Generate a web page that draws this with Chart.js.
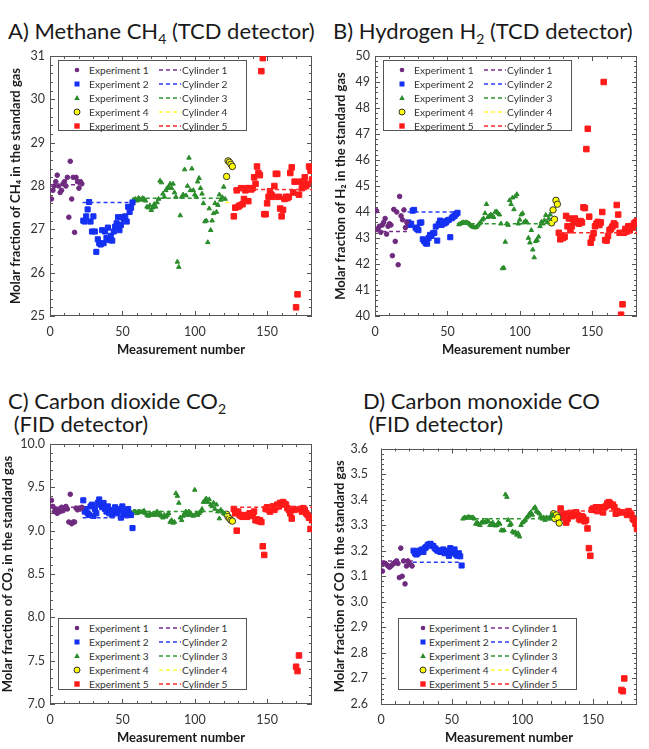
<!DOCTYPE html>
<html lang="en">
<head>
<meta charset="UTF-8">
<title>Standard gas measurements</title>
<script src="https://cdn.jsdelivr.net/npm/chart.js"></script>
<style>
  html, body { margin: 0; padding: 0; background: #fff; overflow: hidden; }
  body { width: 649px; height: 749px; position: relative; font-family: Lato, "Open Sans", sans-serif; color: #1a1a1a; }
  .panel-title { position: absolute; font-size: 22px; line-height: 23px; white-space: nowrap; }
  .panel-title sub { font-size: 14px; vertical-align: -5px; line-height: 0; }
  .chart-box { position: absolute; }
  .legend { position: absolute; border: 1px solid #555; background: #fff; box-sizing: border-box; }
  .legend svg { position: absolute; left: 0; top: 0; }
  .legend span { position: absolute; font-size: 10.2px; line-height: 12px; color: #333; white-space: nowrap; }
</style>
</head>
<body>

<div class="panel-title" style="left:8px; top:19px;">A) Methane CH<sub>4</sub> (TCD detector)</div>
<div class="panel-title" style="left:333px; top:19px;">B) Hydrogen H<sub>2</sub> (TCD detector)</div>
<div class="panel-title" style="left:8px; top:389px;">C) Carbon dioxide CO<sub>2</sub><br>&nbsp;(FID detector)</div>
<div class="panel-title" style="left:363px; top:389px;">D) Carbon monoxide CO<br>&nbsp;(FID detector)</div>

<canvas id="chartA" class="chart-box" width="325" height="326" style="left:0; top:40px;"></canvas>
<canvas id="chartB" class="chart-box" width="324" height="326" style="left:325px; top:40px;"></canvas>
<canvas id="chartC" class="chart-box" width="325" height="326" style="left:0; top:428px;"></canvas>
<canvas id="chartD" class="chart-box" width="324" height="326" style="left:325px; top:428px;"></canvas>

<script>
// measurement numbers: each experiment starts at these indices
const expStart = [1, 23, 58, 122, 127];
const expLabels = ['Experiment 1', 'Experiment 2', 'Experiment 3', 'Experiment 4', 'Experiment 5'];
const cylLabels = ['Cylinder 1', 'Cylinder 2', 'Cylinder 3', 'Cylinder 4', 'Cylinder 5'];
const cylFrom = [0, 22.5, 56.5, 121, 126.5];
const cylTo = [22.5, 56.5, 120.5, 124, 181];

// A) methane
const ch4Exp1 = [27.7, 27.9, 28.0, 28.1, 28.25, 28.0, 27.85, 27.9, 28.05, 28.1, 28.0, 28.2, 27.28, 28.57, 27.7, 28.2, 26.93, 28.2, 28.1, 27.95, 28.1, 28.05];
const ch4Exp2 = [27.2, 27.18, 27.3, 27.46, 27.63, 27.18, 26.95, 27.3, 26.95, 26.48, 26.77, 26.68, 26.65, 26.98, 26.68, 26.95, 26.8, 27.04, 26.75, 26.85, 26.74, 26.95, 27.06, 27.14, 27.28, 26.98, 27.1, 27.28, 27.23, 27.3, 27.18, 27.52, 27.4, 27.5, 27.62];
const ch4Exp3 = [27.68, 27.7, 27.66, 27.72, 27.7, 27.68, 27.72, 27.7, 27.66, 27.52, 27.5, 27.55, 27.44, 27.5, 27.58, 27.52, 27.62, 27.7, 28.12, 28.08, 27.82, 27.75, 27.9, 27.95, 27.98, 28.05, 27.95, 28.05, 27.85, 27.75, 26.25, 26.13, 27.32, 27.75, 27.8, 28.38, 27.78, 28.0, 28.65, 27.9, 28.4, 27.9, 27.8, 27.75, 28.1, 28.18, 27.95, 27.82, 27.6, 27.18, 27.2, 26.7, 27.48, 26.98, 27.2, 27.37, 27.6, 27.4, 27.56, 27.8, 27.68, 27.74, 27.98, 27.7];
const ch4Exp4 = [28.22, 28.58, 28.55, 28.5, 28.45];
const ch4Exp5 = [27.3, 27.5, 27.9, 27.52, 27.55, 27.95, 27.58, 27.7, 27.9, 27.95, 27.65, 27.95, 27.92, 27.95, 28.2, 28.05, 28.45, 28.3, 28.25, 30.65, 30.95, 27.35, 27.35, 27.6, 27.75, 27.88, 27.8, 27.75, 28.0, 28.28, 28.28, 27.75, 27.48, 27.3, 27.45, 27.7, 27.75, 27.72, 27.75, 28.3, 28.43, 27.85, 28.1, 25.2, 25.5, 27.8, 28.1, 27.95, 28.1, 28.2, 28.0, 28.05, 28.45, 28.35, 28.15];
const ch4Cyl = [28.03, 27.62, 27.72, 27.62, 27.92];

// B) hydrogen
const h2Exp1 = [44.05, 43.35, 43.45, 43.22, 43.5, 43.6, 43.75, 43.15, 43.45, 43.55, 43.5, 42.32, 44.1, 42.87, 44.0, 41.97, 44.6, 43.85, 43.7, 44.08, 43.4, 43.6];
const h2Exp2 = [43.6, 43.5, 43.55, 44.05, 44.08, 43.4, 43.35, 43.3, 43.58, 43.6, 42.95, 42.88, 42.8, 42.78, 43.0, 43.12, 43.08, 43.18, 43.2, 43.44, 42.9, 43.54, 43.67, 43.5, 43.63, 43.56, 43.6, 43.67, 43.7, 43.03, 43.76, 43.82, 43.85, 43.92, 43.97];
const h2Exp3 = [43.52, 43.55, 43.58, 43.6, 43.58, 43.6, 43.58, 43.55, 43.5, 43.45, 43.42, 43.4, 43.42, 43.48, 43.55, 43.6, 43.7, 43.75, 43.95, 44.3, 43.8, 43.85, 43.9, 43.85, 43.8, 44.0, 44.02, 43.95, 43.9, 43.55, 41.83, 41.85, 42.85, 43.55, 43.5, 44.45, 44.3, 44.55, 44.1, 44.6, 44.68, 43.55, 43.7, 43.9, 43.95, 43.6, 43.65, 43.6, 43.0, 42.82, 43.3, 42.55, 42.25, 42.88, 42.92, 43.05, 43.45, 43.62, 43.55, 43.68, 43.88, 43.6, 43.75, 43.9];
const h2Exp4 = [43.58, 44.08, 43.72, 44.45, 44.3];
const h2Exp5 = [43.2, 42.95, 43.1, 43.0, 43.05, 43.85, 43.45, 43.75, 43.3, 43.45, 43.7, 43.75, 43.65, 43.6, 43.55, 43.65, 43.6, 44.18, 44.15, 46.42, 47.2, 43.82, 42.82, 43.0, 43.18, 43.45, 43.55, 43.62, 43.5, 43.6, 44.0, 49.0, 42.92, 42.9, 43.08, 43.3, 43.35, 43.44, 43.56, 43.5, 44.27, 43.9, 43.2, 40.05, 40.45, 43.2, 43.35, 43.25, 43.45, 43.3, 43.46, 43.4, 43.56, 43.6, 43.65];
const h2Cyl = [43.25, 44.0, 43.55, 43.62, 43.2];

// C) carbon dioxide
const co2Exp1 = [9.35, 9.28, 9.22, 9.25, 9.2, 9.24, 9.22, 9.27, 9.23, 9.26, 9.28, 9.25, 9.1, 9.42, 9.08, 9.1, 9.1, 9.26, 9.24, 9.26, 9.25, 9.27];
const co2Exp2 = [9.35, 9.22, 9.25, 9.2, 9.18, 9.28, 9.3, 9.17, 9.25, 9.2, 9.32, 9.36, 9.3, 9.27, 9.32, 9.25, 9.22, 9.28, 9.2, 9.24, 9.18, 9.22, 9.27, 9.2, 9.22, 9.25, 9.15, 9.28, 9.2, 9.22, 9.18, 9.25, 9.2, 9.18, 9.03];
const co2Exp3 = [9.22, 9.22, 9.2, 9.22, 9.22, 9.21, 9.22, 9.23, 9.2, 9.18, 9.17, 9.2, 9.18, 9.19, 9.18, 9.2, 9.22, 9.18, 9.2, 9.17, 9.15, 9.18, 9.16, 9.18, 9.2, 9.1, 9.12, 9.09, 9.1, 9.43, 9.4, 9.32, 9.15, 9.12, 9.17, 9.2, 9.22, 9.18, 9.22, 9.2, 9.18, 9.17, 9.47, 9.2, 9.18, 9.2, 9.22, 9.25, 9.33, 9.35, 9.37, 9.33, 9.36, 9.3, 9.28, 9.32, 9.25, 9.3, 9.22, 9.14, 9.24, 9.22, 9.2, 9.19];
const co2Exp4 = [9.19, 9.16, 9.14, 9.12, 9.11];
const co2Exp5 = [9.25, 9.2, 9.0, 9.22, 9.18, 9.17, 9.16, 9.18, 9.17, 9.16, 9.18, 9.2, 9.17, 9.2, 9.22, 9.12, 9.13, 9.11, 9.12, 9.1, 8.82, 8.72, 9.25, 9.27, 9.24, 9.22, 9.26, 9.28, 9.24, 9.27, 9.3, 9.28, 9.32, 9.3, 9.33, 9.31, 9.3, 9.26, 9.24, 9.2, 9.14, 9.25, 9.24, 7.43, 7.38, 7.56, 9.25, 9.22, 9.26, 9.24, 9.2, 9.18, 9.15, 9.02, 9.12];
const co2Cyl = [9.27, 9.15, 9.22, 9.18, 9.27];

// D) carbon monoxide
const coExp1 = [3.12, 3.15, 3.15, 3.145, 3.14, 3.135, 3.14, 3.145, 3.15, 3.155, 3.16, 3.15, 3.095, 3.21, 3.1, 3.16, 3.07, 3.14, 3.16, 3.15, 3.145, 3.14];
const coExp2 = [3.2, 3.19, 3.185, 3.19, 3.2, 3.2, 3.205, 3.195, 3.21, 3.215, 3.222, 3.225, 3.227, 3.22, 3.218, 3.21, 3.205, 3.2, 3.2, 3.195, 3.2, 3.205, 3.19, 3.195, 3.2, 3.18, 3.21, 3.2, 3.19, 3.205, 3.185, 3.18, 3.19, 3.178, 3.142];
const coExp3 = [3.325, 3.33, 3.328, 3.33, 3.332, 3.33, 3.328, 3.33, 3.325, 3.305, 3.31, 3.305, 3.3, 3.31, 3.315, 3.31, 3.312, 3.318, 3.315, 3.3, 3.305, 3.31, 3.3, 3.298, 3.3, 3.31, 3.305, 3.28, 3.278, 3.28, 3.42, 3.41, 3.32, 3.3, 3.305, 3.275, 3.27, 3.272, 3.262, 3.268, 3.255, 3.3, 3.31, 3.315, 3.32, 3.33, 3.335, 3.345, 3.35, 3.34, 3.365, 3.37, 3.355, 3.35, 3.345, 3.335, 3.325, 3.33, 3.32, 3.33, 3.325, 3.33, 3.325, 3.34];
const coExp4 = [3.345, 3.325, 3.34, 3.33, 3.308];
const coExp5 = [3.365, 3.34, 3.33, 3.345, 3.31, 3.325, 3.34, 3.348, 3.335, 3.34, 3.345, 3.35, 3.34, 3.325, 3.32, 3.335, 3.33, 3.315, 3.32, 3.287, 3.21, 3.18, 3.36, 3.365, 3.36, 3.37, 3.355, 3.37, 3.36, 3.365, 3.35, 3.37, 3.375, 3.385, 3.39, 3.385, 3.378, 3.38, 3.37, 3.345, 3.355, 3.35, 3.35, 2.655, 2.65, 2.70, 3.35, 3.34, 3.355, 3.345, 3.34, 3.325, 3.32, 3.305, 3.285];
const coCyl = [3.16, 3.155, 3.325, 3.325, 3.355];

const expColors = ['#6E2A7E', '#1430F2', '#2A8C2A', '#FFFF00', '#FF1A1A'];
const cylColors = ['#7A2E8E', '#2A3CF5', '#2E962E', '#FFFF33', '#FF2A2A'];
const expShapes = ['circle', 'rect', 'triangle', 'circle', 'rect'];
const expSizes = [2.3, 3.6, 2.6, 3.2, 3.9];

// inward ticks on all four sides plus the box frame
const frameTicks = {
  id: 'frameTicks',
  beforeDatasetsDraw(chart, args, opts) {
    const { ctx, chartArea: a, scales: { x, y } } = chart;
    ctx.save();
    ctx.strokeStyle = '#555';
    ctx.lineWidth = 1;
    ctx.strokeRect(Math.round(a.left) + 0.5, Math.round(a.top) + 0.5, Math.round(a.right - a.left) - 1, Math.round(a.bottom - a.top) - 1);
    ctx.beginPath();
    const isMajor = (v, step) => Math.abs(Math.round(v / step) * step - v) < 1e-6;
    let n = Math.round((x.max - x.min) / opts.xMinor);
    for (let i = 0; i <= n; i++) {
      const v = x.min + i * opts.xMinor;
      const px = Math.round(x.getPixelForValue(v)) + 0.5;
      const len = isMajor(v, opts.xMajor) ? 5 : 3;
      ctx.moveTo(px, a.bottom); ctx.lineTo(px, a.bottom - len);
      ctx.moveTo(px, a.top); ctx.lineTo(px, a.top + len);
    }
    n = Math.round((y.max - y.min) / opts.yMinor);
    for (let i = 0; i <= n; i++) {
      const v = y.min + i * opts.yMinor;
      const py = Math.round(y.getPixelForValue(v)) + 0.5;
      const len = isMajor(v - y.min, opts.yMajor) ? 5 : 3;
      ctx.moveTo(a.left, py); ctx.lineTo(a.left + len, py);
      ctx.moveTo(a.right, py); ctx.lineTo(a.right - len, py);
    }
    ctx.stroke();
    ctx.restore();
  }
};

function buildDatasets(exps, cyl) {
  const sets = [];
  exps.forEach((vals, k) => {
    sets.push({
      type: 'scatter',
      label: expLabels[k],
      data: vals.map((v, i) => ({ x: expStart[k] + i, y: v })),
      pointStyle: expShapes[k],
      pointRadius: expSizes[k],
      backgroundColor: expColors[k],
      borderColor: k === 3 ? '#333' : expColors[k],
      borderWidth: 1,
      order: 2
    });
  });
  cyl.forEach((v, k) => {
    sets.push({
      type: 'line',
      label: cylLabels[k],
      data: [{ x: cylFrom[k], y: v }, { x: cylTo[k], y: v }],
      borderColor: cylColors[k],
      borderWidth: 1.5,
      borderDash: [4, 3],
      pointRadius: 0,
      order: 1
    });
  });
  return sets;
}

function makeChart(id, cfg) {
  return new Chart(document.getElementById(id), {
    data: { datasets: buildDatasets(cfg.exps, cfg.cyl) },
    options: {
      responsive: false,
      animation: false,
      layout: { padding: { left: 0, right: cfg.padRight, top: 16, bottom: 0 } },
      plugins: {
        legend: { display: false },
        tooltip: { enabled: false },
        frameTicks: { xMinor: 10, xMajor: 50, yMinor: cfg.yMinor, yMajor: cfg.yStep }
      },
      scales: {
        x: {
          type: 'linear', min: 0, max: 181,
          afterFit: s => { s.height = 50; },
          grid: { display: false, drawTicks: false },
          border: { display: false },
          ticks: { stepSize: 50, includeBounds: false, padding: 8, color: '#333', font: { family: 'Lato', size: 12.5 } },
          title: { display: true, text: 'Measurement number', color: '#1a1a1a', font: { family: 'Lato', size: 13, weight: 'bold' }, padding: { top: 0, bottom: 8 } }
        },
        y: {
          type: 'linear', min: cfg.yMin, max: cfg.yMax,
          afterFit: s => { s.width = cfg.yWidth; },
          grid: { display: false, drawTicks: false },
          border: { display: false },
          ticks: { stepSize: cfg.yStep, includeBounds: false, padding: cfg.tickPad, color: '#333', font: { family: 'Lato', size: 12.5 },
                   callback: v => v.toFixed(cfg.decimals) },
          title: { display: true, text: cfg.yTitle, color: '#1a1a1a', font: { family: 'Lato', size: 13, weight: 'bold' }, padding: { top: cfg.titlePad, bottom: 0 } }
        }
      }
    },
    plugins: [frameTicks]
  });
}

makeChart('chartA', { exps: [ch4Exp1, ch4Exp2, ch4Exp3, ch4Exp4, ch4Exp5], cyl: ch4Cyl, yMin: 25, yMax: 31, yStep: 1, yMinor: 0.2, decimals: 0,
  yTitle: 'Molar fraction of CH\u2084 in the standard gas', yWidth: 50, padRight: 13, tickPad: 5, titlePad: 8 });
makeChart('chartB', { exps: [h2Exp1, h2Exp2, h2Exp3, h2Exp4, h2Exp5], cyl: h2Cyl, yMin: 40, yMax: 50, yStep: 1, yMinor: 0.2, decimals: 0,
  yTitle: 'Molar fraction of H\u2082 in the standard gas', yWidth: 50, padRight: 12, tickPad: 5, titlePad: 8 });
makeChart('chartC', { exps: [co2Exp1, co2Exp2, co2Exp3, co2Exp4, co2Exp5], cyl: co2Cyl, yMin: 7, yMax: 10, yStep: 0.5, yMinor: 0.1, decimals: 1,
  yTitle: 'Molar fraction of CO\u2082 in the standard gas', yWidth: 50, padRight: 13, tickPad: 5, titlePad: 0 });
makeChart('chartD', { exps: [coExp1, coExp2, coExp3, coExp4, coExp5], cyl: coCyl, yMin: 2.6, yMax: 3.6, yStep: 0.1, yMinor: 0.02, decimals: 1,
  yTitle: 'Molar fraction of CO in the standard gas', yWidth: 56, padRight: 12, tickPad: 13, titlePad: 7 });

// legends sit inside the plot frames
const legendBoxes = [
  { left: 58, top: 60, w: 189, h: 71, mark: 18, text: 30, line: 100, cyl: 123 },
  { left: 383, top: 60, w: 189, h: 71, mark: 18, text: 30, line: 100, cyl: 123 },
  { left: 58, top: 618, w: 189, h: 72, mark: 18, text: 30, line: 100, cyl: 123 },
  { left: 398, top: 618, w: 179, h: 72, mark: 24, text: 30, line: 92, cyl: 113 }
];
const rowY = [9, 23, 37, 51, 65];

function markerSvg(k, cx, cy) {
  const c = expColors[k];
  if (k === 0) return `<circle cx="${cx}" cy="${cy}" r="2.3" fill="${c}"/>`;
  if (k === 1) return `<rect x="${cx - 2.5}" y="${cy - 2.5}" width="5" height="5" fill="${c}"/>`;
  if (k === 2) return `<polygon points="${cx},${cy - 3} ${cx + 2.8},${cy + 2} ${cx - 2.8},${cy + 2}" fill="${c}"/>`;
  if (k === 3) return `<circle cx="${cx}" cy="${cy}" r="3" fill="${c}" stroke="#333" stroke-width="1"/>`;
  return `<rect x="${cx - 2.7}" y="${cy - 2.7}" width="5.4" height="5.4" fill="${c}"/>`;
}

legendBoxes.forEach(b => {
  const div = document.createElement('div');
  div.className = 'legend';
  Object.assign(div.style, { left: b.left + 'px', top: b.top + 'px', width: b.w + 'px', height: b.h + 'px' });
  let svg = `<svg width="${b.w}" height="${b.h}">`;
  let spans = '';
  rowY.forEach((y, k) => {
    svg += markerSvg(k, b.mark, y);
    svg += `<line x1="${b.line}" y1="${y}" x2="${b.cyl - 1}" y2="${y}" stroke="${cylColors[k]}" stroke-width="1.5" stroke-dasharray="4 3"/>`;
    spans += `<span style="left:${b.text}px; top:${y - 6}px">${expLabels[k]}</span>`;
    spans += `<span style="left:${b.cyl}px; top:${y - 6}px">${cylLabels[k]}</span>`;
  });
  svg += '</svg>';
  div.innerHTML = svg + spans;
  document.body.appendChild(div);
});
</script>
</body>
</html>
